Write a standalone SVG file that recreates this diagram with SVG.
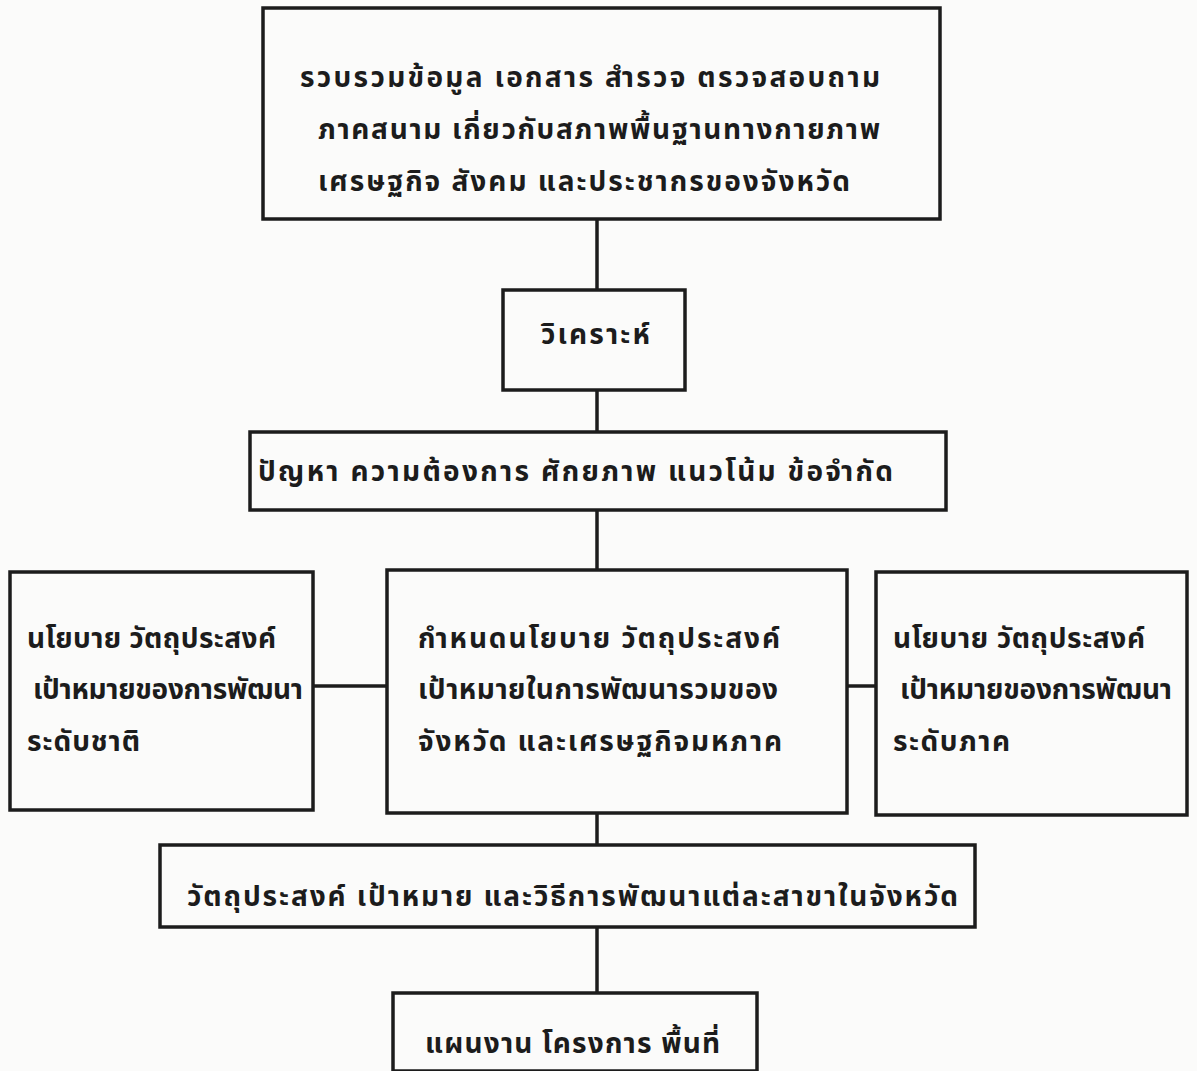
<svg xmlns="http://www.w3.org/2000/svg" width="1197" height="1071" viewBox="0 0 1197 1071">
<style>
.box{fill:none;stroke:#1c1c1c;stroke-width:3.5}
.ln{stroke:#1c1c1c;stroke-width:3.5;fill:none}
.t{font-family:"Noto Sans Thai","Noto Sans","DejaVu Sans",sans-serif;font-size:28px;font-weight:bold;fill:#1c1c1c}
</style>
<rect width="1197" height="1071" fill="#fbfbfa"/>
<g id="connectors">
<line class="ln" x1="597" y1="219" x2="597" y2="290"/>
<line class="ln" x1="597" y1="390" x2="597" y2="432"/>
<line class="ln" x1="597" y1="510" x2="597" y2="570"/>
<line class="ln" x1="313" y1="686" x2="387" y2="686"/>
<line class="ln" x1="847" y1="686" x2="876" y2="686"/>
<line class="ln" x1="597" y1="813" x2="597" y2="845"/>
<line class="ln" x1="597" y1="927" x2="597" y2="993"/>
</g>
<g id="n1">
<rect class="box" x="263" y="8" width="677" height="211"/>
<text class="t" x="300" y="87" textLength="580" lengthAdjust="spacing">รวบรวมข้อมูล เอกสาร สำรวจ ตรวจสอบถาม</text>
<text class="t" x="318" y="139" textLength="562" lengthAdjust="spacing">ภาคสนาม เกี่ยวกับสภาพพื้นฐานทางกายภาพ</text>
<text class="t" x="318" y="191" textLength="532" lengthAdjust="spacing">เศรษฐกิจ สังคม และประชากรของจังหวัด</text>
</g>
<g id="n2">
<rect class="box" x="503" y="290" width="182" height="100"/>
<text class="t" x="541" y="344" textLength="109" lengthAdjust="spacing">วิเคราะห์</text>
</g>
<g id="n3">
<rect class="box" x="250" y="432" width="696" height="78"/>
<text class="t" x="258" y="481" textLength="635" lengthAdjust="spacing">ปัญหา ความต้องการ ศักยภาพ แนวโน้ม ข้อจำกัด</text>
</g>
<g id="n4">
<rect class="box" x="10" y="572" width="303" height="238"/>
<text class="t" x="27" y="648" textLength="249" lengthAdjust="spacing">นโยบาย วัตถุประสงค์</text>
<text class="t" x="33" y="699" textLength="270" lengthAdjust="spacing">เป้าหมายของการพัฒนา</text>
<text class="t" x="27" y="751" textLength="113" lengthAdjust="spacing">ระดับชาติ</text>
</g>
<g id="n5">
<rect class="box" x="387" y="570" width="460" height="243"/>
<text class="t" x="418" y="648" textLength="362" lengthAdjust="spacing">กำหนดนโยบาย วัตถุประสงค์</text>
<text class="t" x="418" y="699" textLength="360" lengthAdjust="spacing">เป้าหมายในการพัฒนารวมของ</text>
<text class="t" x="418" y="751" textLength="364" lengthAdjust="spacing">จังหวัด และเศรษฐกิจมหภาค</text>
</g>
<g id="n6">
<rect class="box" x="876" y="572" width="311" height="243"/>
<text class="t" x="893" y="648" textLength="252" lengthAdjust="spacing">นโยบาย วัตถุประสงค์</text>
<text class="t" x="900" y="699" textLength="272" lengthAdjust="spacing">เป้าหมายของการพัฒนา</text>
<text class="t" x="893" y="751" textLength="117" lengthAdjust="spacing">ระดับภาค</text>
</g>
<g id="n7">
<rect class="box" x="160" y="845" width="815" height="82"/>
<text class="t" x="187" y="906" textLength="771" lengthAdjust="spacing">วัตถุประสงค์ เป้าหมาย และวิธีการพัฒนาแต่ละสาขาในจังหวัด</text>
</g>
<g id="n8">
<rect class="box" x="393" y="993" width="364" height="78"/>
<text class="t" x="425" y="1053" textLength="295" lengthAdjust="spacing">แผนงาน โครงการ พื้นที่</text>
</g>
</svg>
